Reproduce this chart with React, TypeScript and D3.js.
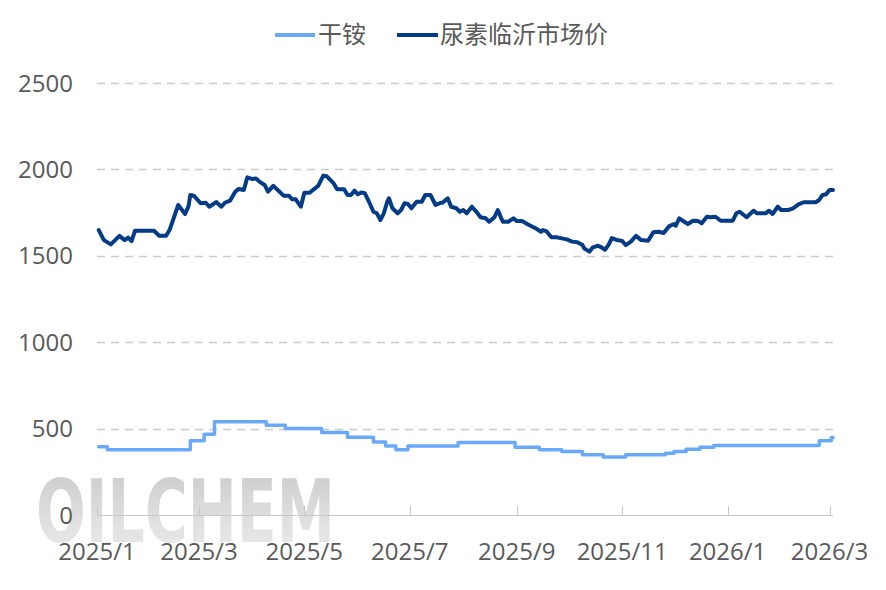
import React from "react";
import * as d3 from "d3";

const W = 886;
const H = 590;

const seriesNames = ["干铵", "尿素临沂市场价"];
const yTicks = [0, 500, 1000, 1500, 2000, 2500];
const xTickDates = ["2025-01-01", "2025-03-01", "2025-05-01", "2025-07-01", "2025-09-01", "2025-11-01", "2026-01-01", "2026-03-01"];
const xTickLabels = ["2025/1", "2025/3", "2025/5", "2025/7", "2025/9", "2025/11", "2026/1", "2026/3"];

const ureaDates = [
  "2025-01-02", "2025-01-05", "2025-01-09", "2025-01-14", "2025-01-17", "2025-01-19", "2025-01-21", "2025-01-23",
  "2025-02-03", "2025-02-06", "2025-02-10", "2025-02-12", "2025-02-17", "2025-02-21", "2025-02-23", "2025-02-24",
  "2025-02-26", "2025-03-02", "2025-03-05", "2025-03-07", "2025-03-11", "2025-03-14", "2025-03-16", "2025-03-19",
  "2025-03-22", "2025-03-24", "2025-03-27", "2025-03-29", "2025-04-01", "2025-04-03", "2025-04-05", "2025-04-08",
  "2025-04-10", "2025-04-13", "2025-04-19", "2025-04-22", "2025-04-24", "2025-04-26", "2025-04-29", "2025-05-01",
  "2025-05-04", "2025-05-09", "2025-05-12", "2025-05-14", "2025-05-18", "2025-05-20", "2025-05-24", "2025-05-26",
  "2025-05-28", "2025-05-30", "2025-06-01", "2025-06-03", "2025-06-05", "2025-06-08", "2025-06-10", "2025-06-12",
  "2025-06-14", "2025-06-16", "2025-06-18", "2025-06-19", "2025-06-21", "2025-06-24", "2025-06-26", "2025-06-28",
  "2025-06-30", "2025-07-02", "2025-07-05", "2025-07-08", "2025-07-10", "2025-07-13", "2025-07-16", "2025-07-19",
  "2025-07-20", "2025-07-23", "2025-07-25", "2025-07-28", "2025-07-30", "2025-08-01", "2025-08-03", "2025-08-06",
  "2025-08-09", "2025-08-11", "2025-08-14", "2025-08-16", "2025-08-19", "2025-08-21", "2025-08-23", "2025-08-24",
  "2025-08-27", "2025-08-30", "2025-09-01", "2025-09-04", "2025-09-07", "2025-09-10", "2025-09-12", "2025-09-15",
  "2025-09-16", "2025-09-18", "2025-09-21", "2025-09-24", "2025-09-27", "2025-09-30", "2025-10-03", "2025-10-06",
  "2025-10-09", "2025-10-10", "2025-10-13", "2025-10-15", "2025-10-18", "2025-10-20", "2025-10-22", "2025-10-24",
  "2025-10-26", "2025-10-29", "2025-11-01", "2025-11-03", "2025-11-06", "2025-11-09", "2025-11-12", "2025-11-16",
  "2025-11-19", "2025-11-22", "2025-11-25", "2025-11-28", "2025-12-01", "2025-12-02", "2025-12-04", "2025-12-06",
  "2025-12-09", "2025-12-12", "2025-12-15", "2025-12-17", "2025-12-20", "2025-12-22", "2025-12-25", "2025-12-28",
  "2026-01-04", "2026-01-06", "2026-01-08", "2026-01-12", "2026-01-16", "2026-01-18", "2026-01-23", "2026-01-25",
  "2026-01-27", "2026-01-30", "2026-02-01", "2026-02-05", "2026-02-08", "2026-02-11", "2026-02-14", "2026-02-21",
  "2026-02-23", "2026-02-25", "2026-02-27", "2026-03-01", "2026-03-03",
];
const ureaValues = [
  1649, 1591, 1566, 1615, 1591, 1605, 1585, 1645,
  1645, 1616, 1616, 1649, 1794, 1742, 1788, 1852,
  1848, 1804, 1807, 1784, 1811, 1784, 1807, 1819,
  1871, 1887, 1881, 1954, 1944, 1948, 1929, 1910,
  1871, 1905, 1848, 1848, 1827, 1827, 1784, 1865,
  1865, 1905, 1964, 1960, 1919, 1885, 1885, 1852,
  1852, 1877, 1856, 1867, 1862, 1800, 1755, 1746,
  1707, 1746, 1813, 1833, 1775, 1746, 1765, 1804,
  1800, 1775, 1813, 1813, 1852, 1852, 1794, 1807,
  1807, 1833, 1784, 1775, 1755, 1765, 1746, 1784,
  1750, 1723, 1717, 1697, 1723, 1765, 1717, 1697,
  1697, 1717, 1701, 1701, 1684, 1668, 1659, 1639,
  1649, 1643, 1607, 1607, 1601, 1595, 1582, 1578,
  1562, 1543, 1524, 1549, 1558, 1549, 1535, 1562,
  1603, 1591, 1586, 1562, 1582, 1615, 1591, 1587,
  1636, 1639, 1632, 1670, 1684, 1674, 1717, 1703,
  1684, 1703, 1701, 1688, 1726, 1723, 1726, 1703,
  1703, 1746, 1755, 1723, 1761, 1746, 1746, 1761,
  1742, 1784, 1765, 1765, 1775, 1798, 1810, 1810,
  1823, 1852, 1856, 1881, 1881,
];

const dryDates = [
  "2025-01-02", "2025-01-07", "2025-02-24", "2025-03-04", "2025-03-10", "2025-04-09", "2025-04-20", "2025-05-11",
  "2025-05-26", "2025-06-10", "2025-06-17", "2025-06-23", "2025-06-30", "2025-07-29", "2025-08-31", "2025-09-14",
  "2025-09-27", "2025-10-09", "2025-10-21", "2025-11-03", "2025-11-26", "2025-12-01", "2025-12-08", "2025-12-16",
  "2025-12-24", "2026-02-23", "2026-03-02", "2026-03-03",
];
const dryValues = [
  395, 378, 430, 468, 540, 520, 500, 478,
  450, 422, 400, 378, 400, 420, 392, 378,
  368, 348, 336, 348, 358, 368, 380, 392,
  402, 430, 448, 448,
];

const LIGHT = "#6aa9f8";
const DARK = "#033b87";
const TEXT = "#595959";
const FONT = "'Noto Sans CJK SC', 'Noto Sans', sans-serif";
const NUMFONT = "'Open Sans', 'Noto Sans', sans-serif";

const parse = d3.timeParse("%Y-%m-%d");

export default function App() {
  const x = d3
    .scaleTime()
    .domain([parse("2025-01-01")!, parse("2026-03-03")!])
    .range([97, 833]);
  const y = d3.scaleLinear().domain([0, 2500]).range([515, 83]);

  const urea = ureaDates.map((d, i) => ({ d: parse(d)!, v: ureaValues[i] }));
  const dry = dryDates.map((d, i) => ({ d: parse(d)!, v: dryValues[i] }));

  const lineLinear = d3
    .line<{ d: Date; v: number }>()
    .x((p) => x(p.d))
    .y((p) => y(p.v))
    .curve(d3.curveLinear);
  const lineStep = d3
    .line<{ d: Date; v: number }>()
    .x((p) => x(p.d))
    .y((p) => y(p.v))
    .curve(d3.curveStepAfter);

  return (
    <svg width={W} height={H} style={{ display: "block", position: "absolute", left: 0, top: 0 }} fontFamily={FONT}>
      <defs>
        <linearGradient id="wm" x1="0" y1="0" x2="0" y2="1">
          <stop offset="0" stopColor="#c4c4c4" />
          <stop offset="1" stopColor="#ededed" />
        </linearGradient>
      </defs>
      <rect width={W} height={H} fill="#fff" />
      {/* watermark */}
      <text
        x={36}
        y={542}
        fontFamily="'DejaVu Sans Condensed', 'DejaVu Sans', sans-serif"
        fontWeight="bold"
        fontSize={88}
        textLength={299}
        lengthAdjust="spacingAndGlyphs"
        fill="url(#wm)"
        opacity={0.9}
      >
        OILCHEM
      </text>
      {/* gridlines */}
      {yTicks.slice(1).map((t) => (
        <line
          key={t}
          x1={97}
          x2={833}
          y1={Math.round(y(t)) + 0.5}
          y2={Math.round(y(t)) + 0.5}
          stroke="#cccccc"
          strokeWidth={1.3}
          strokeDasharray="8 6"
        />
      ))}
      {/* x axis */}
      <line x1={97} x2={833} y1={515.5} y2={515.5} stroke="#c8c8c8" strokeWidth={1} />
      {xTickDates.map((d) => {
        const xx = Math.round(x(parse(d)!)) + 0.5;
        return <line key={d} x1={xx} x2={xx} y1={506} y2={515} stroke="#c8c8c8" strokeWidth={1} />;
      })}
      {/* y labels */}
      {yTicks.map((t) => (
        <text key={t} x={73} y={y(t)} dy="0.36em" textAnchor="end" fontSize={24} fontFamily={NUMFONT} fill={TEXT}>
          {t}
        </text>
      ))}
      {/* x labels */}
      {xTickDates.map((d, i) => (
        <text key={d} x={x(parse(d)!)} y={560} textAnchor="middle" fontSize={24} fontFamily={NUMFONT} fill={TEXT}>
          {xTickLabels[i]}
        </text>
      ))}
      {/* series */}
      <path d={lineStep(dry)!} fill="none" stroke={LIGHT} strokeWidth={3.5} strokeLinejoin="round" strokeLinecap="round" />
      <path d={lineLinear(urea)!} fill="none" stroke={DARK} strokeWidth={4} strokeLinejoin="round" strokeLinecap="round" />
      {/* legend */}
      <line x1={275} x2={315} y1={35} y2={35} stroke={LIGHT} strokeWidth={4} />
      <text x={318} y={35} dy="0.35em" fontSize={24} fill={TEXT}>
        {seriesNames[0]}
      </text>
      <line x1={397} x2={438} y1={35} y2={35} stroke={DARK} strokeWidth={4} />
      <text x={440} y={35} dy="0.35em" fontSize={24} fill={TEXT}>
        {seriesNames[1]}
      </text>
    </svg>
  );
}
